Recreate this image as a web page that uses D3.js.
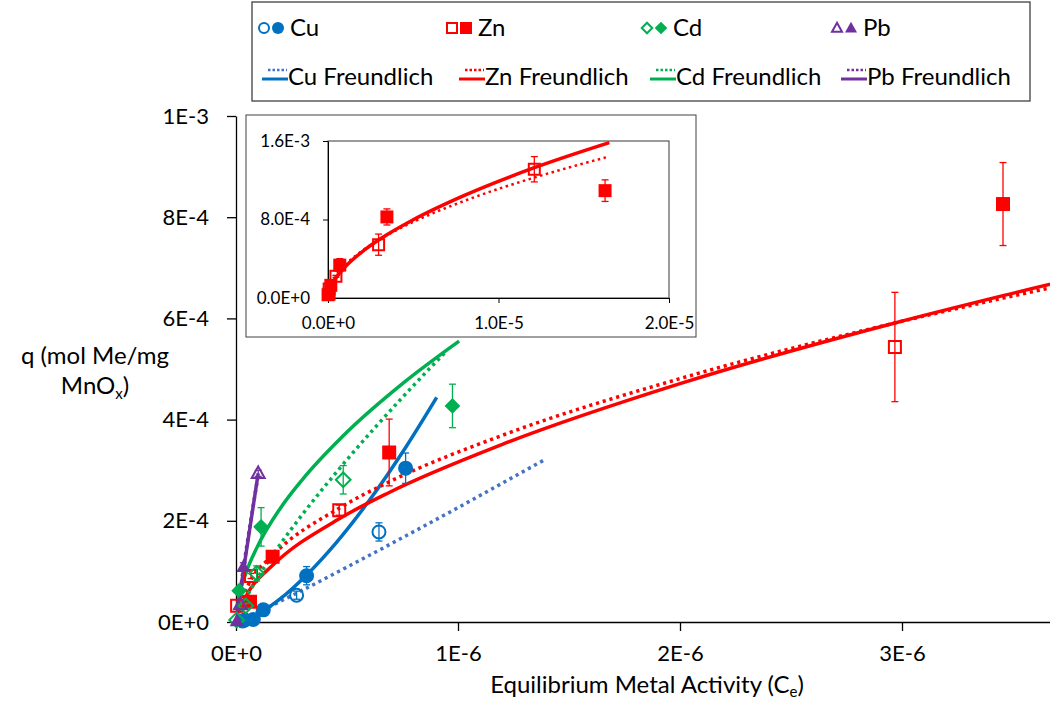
<!DOCTYPE html>
<html>
<head>
<meta charset="utf-8">
<script src="https://cdn.jsdelivr.net/npm/d3@7"></script>
<style>
  body { margin: 0; background: #fff; }
  svg { display: block; font-family: Lato, "Open Sans", sans-serif; }
</style>
</head>
<body>
<svg id="chart" width="1050" height="702"></svg>
<script>
// measured points: x = equilibrium activity, q = mol Me / mg MnOx, e = error half-width
const cuOpen = [
  {x: 0.04e-6, q: 0.04e-4, e: 0},
  {x: 0.273e-6, q: 0.53e-4, e: 0.08e-4},
  {x: 0.644e-6, q: 1.78e-4, e: 0.18e-4},
];
const cuFilled = [
  {x: 0.03e-6, q: 0.02e-4, e: 0},
  {x: 0.078e-6, q: 0.05e-4, e: 0},
  {x: 0.123e-6, q: 0.24e-4, e: 0.04e-4},
  {x: 0.318e-6, q: 0.915e-4, e: 0.18e-4},
  {x: 0.764e-6, q: 3.04e-4, e: 0.30e-4},
];
const znOpen = [
  {x: 0.005e-6, q: 0.32e-4, e: 0},
  {x: 0.068e-6, q: 0.91e-4, e: 0.05e-4},
  {x: 0.465e-6, q: 2.21e-4, e: 0.10e-4},
  {x: 2.968e-6, q: 5.435e-4, e: 1.08e-4},
  {x: 12.1e-6, q: 13.12e-4, e: 1.29e-4},
];
const znFilled = [
  {x: 0.063e-6, q: 0.40e-4, e: 0.04e-4},
  {x: 0.165e-6, q: 1.29e-4, e: 0.06e-4},
  {x: 0.69e-6, q: 3.35e-4, e: 0.66e-4},
  {x: 3.455e-6, q: 8.26e-4, e: 0.82e-4},
  {x: 16.25e-6, q: 10.94e-4, e: 1.10e-4},
];
const cdOpen = [
  {x: 0.003e-6, q: 0.04e-4, e: 0},
  {x: 0.044e-6, q: 0.32e-4, e: 0.05e-4},
  {x: 0.093e-6, q: 0.96e-4, e: 0.15e-4},
  {x: 0.483e-6, q: 2.81e-4, e: 0.28e-4},
];
const cdFilled = [
  {x: 0.014e-6, q: 0.62e-4, e: 0.05e-4},
  {x: 0.113e-6, q: 1.88e-4, e: 0.38e-4},
  {x: 0.975e-6, q: 4.27e-4, e: 0.43e-4},
];
const pbOpen = [
  {x: 0.02e-6, q: 0.35e-4, e: 0},
  {x: 0.100e-6, q: 2.94e-4, e: 0.06e-4},
];
const pbFilled = [
  {x: 0.003e-6, q: 0.02e-4, e: 0},
  {x: 0.033e-6, q: 1.09e-4, e: 0.08e-4},
];

// Freundlich fit curves as [x, q]
const cuFitSolid = [[0.003e-6, 0.001e-4], [0.02e-6, 0.015e-4], [0.063e-6, 0.08e-4], [0.123e-6, 0.22e-4],
  [0.2e-6, 0.46e-4], [0.318e-6, 0.93e-4], [0.45e-6, 1.56e-4], [0.6e-6, 2.40e-4], [0.764e-6, 3.45e-4], [0.904e-6, 4.44e-4]];
const cuFitDotted = [[0.003e-6, 0.005e-4], [0.02e-6, 0.036e-4], [0.063e-6, 0.12e-4], [0.123e-6, 0.245e-4],
  [0.273e-6, 0.57e-4], [0.5e-6, 1.085e-4], [0.764e-6, 1.70e-4], [1.0e-6, 2.26e-4], [1.2e-6, 2.745e-4], [1.387e-6, 3.2e-4]];
const znFitSolid = [[0.005e-6, 0.15e-4], [0.063e-6, 0.645e-4], [0.165e-6, 1.12e-4], [0.465e-6, 2.04e-4],
  [0.69e-6, 2.56e-4], [1.2e-6, 3.51e-4], [2.0e-6, 4.71e-4], [2.968e-6, 5.91e-4], [3.455e-6, 6.45e-4],
  [5.0e-6, 7.98e-4], [8.0e-6, 10.46e-4], [12.1e-6, 13.28e-4], [16.5e-6, 15.84e-4]];
const znFitDotted = [[0.005e-6, 0.21e-4], [0.063e-6, 0.80e-4], [0.165e-6, 1.315e-4], [0.465e-6, 2.25e-4],
  [0.69e-6, 2.77e-4], [1.2e-6, 3.69e-4], [2.0e-6, 4.81e-4], [2.968e-6, 5.91e-4], [3.455e-6, 6.40e-4],
  [5.0e-6, 7.75e-4], [8.0e-6, 9.90e-4], [12.1e-6, 12.27e-4], [16.3e-6, 14.33e-4]];
const cdFitSolid = [[0.003e-6, 0.21e-4], [0.014e-6, 0.51e-4], [0.044e-6, 0.96e-4], [0.093e-6, 1.46e-4],
  [0.2e-6, 2.25e-4], [0.3e-6, 2.82e-4], [0.483e-6, 3.68e-4], [0.75e-6, 4.71e-4], [1.005e-6, 5.55e-4]];
const cdFitDotted = [[0.003e-6, 0.05e-4], [0.014e-6, 0.18e-4], [0.044e-6, 0.46e-4], [0.093e-6, 0.84e-4],
  [0.2e-6, 1.54e-4], [0.3e-6, 2.13e-4], [0.483e-6, 3.12e-4], [0.75e-6, 4.44e-4], [0.949e-6, 5.36e-4]];
const pbFitSolid = [[0.002e-6, 0.06e-4], [0.033e-6, 1.0e-4], [0.1e-6, 2.94e-4]];
const pbFitDotted = [[0.002e-6, 0.08e-4], [0.033e-6, 1.05e-4], [0.1e-6, 2.90e-4]];

const xTicks = [0, 1e-6, 2e-6, 3e-6];
const yTicks = [0, 2e-4, 4e-4, 6e-4, 8e-4, 1e-3];
const insetXTicks = [0, 1e-5, 2e-5];
const insetYTicks = [0, 8e-4, 1.6e-3];

const colors = {Cu: '#0070C0', CuDot: '#4472C4', Zn: '#FF0000', Cd: '#00B050', Pb: '#7030A0'};

const svg = d3.select('#chart');
const sci = (fmt) => (v) => d3.format(fmt)(v).toUpperCase();

function markerPath(shape, h) {
  switch (shape) {
    case 'circle': return d3.symbol(d3.symbolCircle, Math.PI * h * h)();
    case 'square': return `M${-h},${-h}h${2 * h}v${2 * h}h${-2 * h}Z`;
    case 'diamond': return `M0,${-h * 1.05}L${h * 1.05},0L0,${h * 1.05}L${-h * 1.05},0Z`;
    case 'triangle': return `M0,${-h * 1.05}L${h},${h * 0.75}L${-h},${h * 0.75}Z`;
  }
}

function drawSeries(g, x, y, data, color, shape, filled, h) {
  const eb = g.append('g').attr('stroke', color).attr('stroke-width', 1.3);
  data.filter(d => d.e > 0).forEach(d => {
    const cx = x(d.x);
    eb.append('line').attr('x1', cx).attr('x2', cx).attr('y1', y(d.q - d.e)).attr('y2', y(d.q + d.e));
    [d.q - d.e, d.q + d.e].forEach(v => {
      eb.append('line').attr('x1', cx - 3.5).attr('x2', cx + 3.5).attr('y1', y(v)).attr('y2', y(v));
    });
  });
  g.append('g').selectAll('path').data(data).join('path')
    .attr('d', markerPath(shape, h))
    .attr('transform', d => `translate(${x(d.x)},${y(d.q)})`)
    .attr('fill', filled ? color : 'none')
    .attr('stroke', color)
    .attr('stroke-width', filled ? 0 : 2);
}

function drawFit(g, x, y, pts, color, dotted) {
  const line = d3.line().x(d => x(d[0])).y(d => y(d[1])).curve(d3.curveMonotoneX);
  g.append('path').datum(pts)
    .attr('d', line)
    .attr('fill', 'none')
    .attr('stroke', color)
    .attr('stroke-width', 3.5)
    .attr('stroke-dasharray', dotted ? '3.2 3.8' : null);
}

// ---- main chart ----
const x = d3.scaleLinear().domain([0, 4e-6]).range([236, 1124]);
const y = d3.scaleLinear().domain([0, 1e-3]).range([622, 116]);

svg.append('clipPath').attr('id', 'mainClip')
  .append('rect').attr('x', 236).attr('y', 116).attr('width', 900).attr('height', 506);

const xAxis = svg.append('g').attr('transform', 'translate(0,622)')
  .call(d3.axisBottom(x).tickValues(xTicks).tickFormat(sci('.0e')).tickSize(9).tickPadding(14).tickSizeOuter(0));
const yAxis = svg.append('g').attr('transform', 'translate(236,0)')
  .call(d3.axisLeft(y).tickValues(yTicks).tickFormat(sci('.0e')).tickSize(9).tickPadding(18).tickSizeOuter(0));
[xAxis, yAxis].forEach(a => {
  a.select('.domain').attr('stroke', '#000').attr('stroke-width', 1.3);
  a.selectAll('.tick line').attr('stroke', '#000').attr('stroke-width', 1.3);
  a.selectAll('.tick text').attr('font-size', 22).attr('fill', '#000').attr('font-family', 'Lato');
});

const plot = svg.append('g').attr('clip-path', 'url(#mainClip)');
drawFit(plot, x, y, cuFitDotted, colors.CuDot, true);
drawFit(plot, x, y, cuFitSolid, colors.Cu, false);
drawFit(plot, x, y, znFitDotted, colors.Zn, true);
drawFit(plot, x, y, znFitSolid, colors.Zn, false);
drawFit(plot, x, y, cdFitDotted, colors.Cd, true);
drawFit(plot, x, y, cdFitSolid, colors.Cd, false);
drawFit(plot, x, y, pbFitDotted, colors.Pb, true);
drawFit(plot, x, y, pbFitSolid, colors.Pb, false);

const marks = svg.append('g');
drawSeries(marks, x, y, cuOpen, colors.Cu, 'circle', false, 6.5);
drawSeries(marks, x, y, cuFilled, colors.Cu, 'circle', true, 7.5);
drawSeries(marks, x, y, znOpen, colors.Zn, 'square', false, 6);
drawSeries(marks, x, y, znFilled, colors.Zn, 'square', true, 7);
drawSeries(marks, x, y, cdOpen, colors.Cd, 'diamond', false, 7);
drawSeries(marks, x, y, cdFilled, colors.Cd, 'diamond', true, 7.5);
drawSeries(marks, x, y, pbOpen, colors.Pb, 'triangle', false, 6.5);
drawSeries(marks, x, y, pbFilled, colors.Pb, 'triangle', true, 7);

// axis titles
svg.append('text').attr('text-anchor', 'middle').attr('font-size', 24).attr('fill', '#000')
  .attr('x', 95).attr('y', 364).text('q (mol Me/mg');
const l2 = svg.append('text').attr('text-anchor', 'middle').attr('font-size', 24).attr('fill', '#000')
  .attr('x', 95).attr('y', 394);
l2.append('tspan').text('MnO');
l2.append('tspan').attr('font-size', 15).attr('dy', 5).text('x');
l2.append('tspan').attr('dy', -5).text(')');

const xTitle = svg.append('text').attr('text-anchor', 'middle').attr('font-size', 24).attr('fill', '#000')
  .attr('x', 647).attr('y', 693);
xTitle.append('tspan').text('Equilibrium Metal Activity (C');
xTitle.append('tspan').attr('font-size', 15).attr('dy', 4).text('e');
xTitle.append('tspan').attr('dy', -4).text(')');

// ---- inset ----
const inset = svg.append('g');
inset.append('rect').attr('x', 246).attr('y', 115).attr('width', 450).attr('height', 222)
  .attr('fill', '#fff').attr('stroke', '#404040').attr('stroke-width', 1);
const ix = d3.scaleLinear().domain([0, 2e-5]).range([328, 669]);
const iy = d3.scaleLinear().domain([0, 1.6e-3]).range([298, 141]);
inset.append('rect').attr('x', 328).attr('y', 141).attr('width', 341).attr('height', 157)
  .attr('fill', 'none').attr('stroke', '#595959').attr('stroke-width', 1.2);
const ixAxis = inset.append('g').attr('transform', 'translate(0,298)')
  .call(d3.axisBottom(ix).tickValues(insetXTicks).tickFormat(sci('.1e')).tickSize(5).tickPadding(14).tickSizeOuter(0));
const iyAxis = inset.append('g').attr('transform', 'translate(328,0)')
  .call(d3.axisLeft(iy).tickValues(insetYTicks).tickFormat(sci('.1e')).tickSize(5).tickPadding(13).tickSizeOuter(0));
[ixAxis, iyAxis].forEach(a => {
  a.select('.domain').attr('stroke', '#000').attr('stroke-width', 1);
  a.selectAll('.tick line').attr('stroke', '#000');
  a.selectAll('.tick text').attr('font-size', 17).attr('fill', '#000').attr('font-family', 'Lato');
});
drawFit(inset, ix, iy, znFitDotted, colors.Zn, true);
drawFit(inset, ix, iy, znFitSolid, colors.Zn, false);
inset.selectAll('path[stroke-dasharray]').attr('stroke-width', 2.5).attr('stroke-dasharray', '2.5 3.5');
drawSeries(inset, ix, iy, znOpen, colors.Zn, 'square', false, 5.5);
drawSeries(inset, ix, iy, znFilled, colors.Zn, 'square', true, 6.5);

// ---- legend ----
const legend = svg.append('g');
legend.append('rect').attr('x', 252).attr('y', 2).attr('width', 778).attr('height', 99)
  .attr('fill', '#fff').attr('stroke', '#404040').attr('stroke-width', 1.3);
const legendMetals = ['Cu', 'Zn', 'Cd', 'Pb'];
const legendShapes = ['circle', 'square', 'diamond', 'triangle'];
const row1X = [258, 446, 641, 831];
const row2X = [262, 459, 650, 841];
legendMetals.forEach((m, i) => {
  const c = colors[m];
  const s = legendShapes[i];
  legend.append('path').attr('d', markerPath(s, 5)).attr('transform', `translate(${row1X[i] + 6},28)`)
    .attr('fill', 'none').attr('stroke', c).attr('stroke-width', 2);
  legend.append('path').attr('d', markerPath(s, 6)).attr('transform', `translate(${row1X[i] + 20},28)`)
    .attr('fill', c);
  legend.append('text').attr('x', row1X[i] + 32).attr('y', 28).attr('dy', '0.35em')
    .attr('font-size', 24).attr('fill', '#000').text(m);
  const lx = row2X[i];
  legend.append('line').attr('x1', lx + 6).attr('x2', lx + 25).attr('y1', 70).attr('y2', 70)
    .attr('stroke', m === 'Cu' ? colors.CuDot : c).attr('stroke-width', 2.5).attr('stroke-dasharray', '2.5 2');
  legend.append('line').attr('x1', lx).attr('x2', lx + 26).attr('y1', 79).attr('y2', 79)
    .attr('stroke', c).attr('stroke-width', 3);
  legend.append('text').attr('x', lx + 26).attr('y', 77).attr('dy', '0.35em')
    .attr('font-size', 24).attr('fill', '#000').text(m + ' Freundlich');
});
</script>
</body>
</html>
